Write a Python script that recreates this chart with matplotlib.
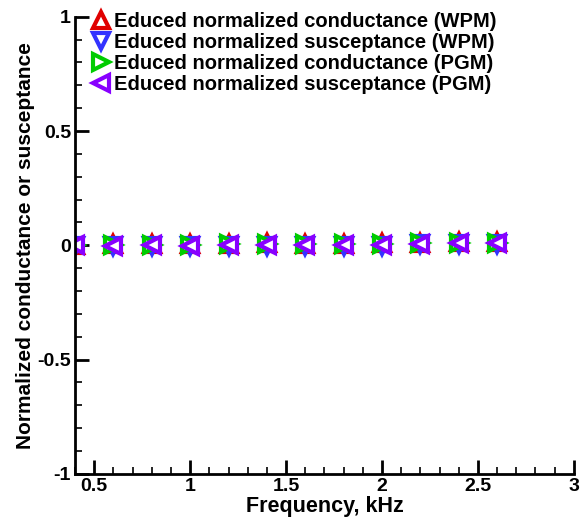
import matplotlib
matplotlib.use("Agg")
import matplotlib.pyplot as plt
from matplotlib.ticker import MultipleLocator

plt.rcParams['font.family'] = ['Liberation Sans', 'DejaVu Sans']
plt.rcParams['font.weight'] = 'bold'

freq = [0.4, 0.6, 0.8, 1.0, 1.2, 1.4, 1.6, 1.8, 2.0, 2.2, 2.4, 2.6]
cond_wpm = [0.002, 0.004, 0.005, 0.004, 0.007, 0.008, 0.007, 0.007, 0.008, 0.012, 0.015, 0.015]
susc_wpm = [-0.004, -0.004, -0.003, -0.005, -0.002, -0.002, -0.003, -0.003, -0.001, 0.004, 0.006, 0.006]
cond_pgm = [0.001, 0.002, 0.003, 0.002, 0.005, 0.005, 0.004, 0.004, 0.005, 0.009, 0.011, 0.011]
susc_pgm = [0.0, -0.002, 0.0, -0.002, 0.002, 0.002, 0.001, 0.001, 0.003, 0.007, 0.009, 0.009]

labels = ["Educed normalized conductance (WPM)",
          "Educed normalized susceptance (WPM)",
          "Educed normalized conductance (PGM)",
          "Educed normalized susceptance (PGM)"]

fig = plt.figure(figsize=(5.82, 5.23), dpi=100)
ax = fig.add_axes([0.129, 0.094, 0.857, 0.874])

ms = 11
mew = 3.0
ax.plot(freq, cond_wpm, ls='none', marker='^', ms=ms, mfc='white', mec='#e00000', mew=mew, label=labels[0])
ax.plot(freq, susc_wpm, ls='none', marker='v', ms=ms, mfc='white', mec='#3333ff', mew=mew, label=labels[1])
ax.plot(freq, cond_pgm, ls='none', marker='>', ms=ms, mfc='white', mec='#00cc00', mew=mew, label=labels[2])
ax.plot(freq, susc_pgm, ls='none', marker='<', ms=ms, mfc='white', mec='#8800ff', mew=mew, label=labels[3])

ax.set_xlim(0.4, 3.0)
ax.set_ylim(-1, 1)
ax.xaxis.set_minor_locator(MultipleLocator(0.1))
ax.yaxis.set_minor_locator(MultipleLocator(0.1))
ax.set_xticks([0.5, 1, 1.5, 2, 2.5, 3])
ax.set_xticklabels(['0.5', '1', '1.5', '2', '2.5', '3'])
ax.set_yticks([-1, -0.5, 0, 0.5, 1])
ax.set_yticklabels(['-1', '-0.5', '0', '0.5', '1'])

for s in ['top', 'right']:
    ax.spines[s].set_visible(False)
for s in ['left', 'bottom']:
    ax.spines[s].set_linewidth(2)
ax.tick_params(which='major', direction='in', length=10, width=2, labelsize=14, pad=3)
ax.tick_params(which='minor', direction='in', length=5, width=1.2)
for t in ax.get_xticklabels() + ax.get_yticklabels():
    t.set_fontweight('bold')

ax.set_xlabel("Frequency, kHz", fontsize=15.5, fontweight='bold', labelpad=1)
ax.set_ylabel("Normalized conductance or susceptance", fontsize=15, fontweight='bold', labelpad=2)

leg = ax.legend(loc='upper left', bbox_to_anchor=(0.01, 1.028), frameon=False,
                handletextpad=0.0, labelspacing=0.1, handlelength=1.3,
                borderaxespad=0.0, prop={'size': 14.5, 'weight': 'bold'})

fig.savefig("out.png", dpi=100)
